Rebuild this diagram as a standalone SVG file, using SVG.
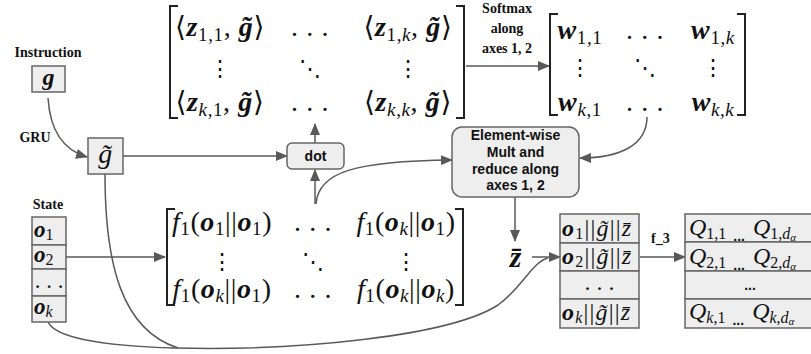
<svg xmlns="http://www.w3.org/2000/svg" width="811" height="354" viewBox="0 0 811 354">
<style>
.bg{fill:#ffffff}
.box{fill:#eeeeee;stroke:#666666;stroke-width:1.5}
.ln{fill:none;stroke:#595959;stroke-width:1.5}
.br{fill:none;stroke:#222222;stroke-width:2}
.lbl{font-family:"Liberation Serif","Times New Roman",serif;font-weight:bold;font-size:14px;fill:#111}
.sans{font-family:"Liberation Sans",Arial,sans-serif;font-weight:bold;font-size:14px;fill:#111;text-anchor:middle}
.m{font-family:"Liberation Serif","DejaVu Serif",serif;font-size:28px;fill:#111;letter-spacing:0.6px}
.m2{font-size:24px;letter-spacing:0}
.m3{font-size:23px;letter-spacing:0}
.cc{letter-spacing:1.2px}
.bi{font-weight:bold;font-style:italic}
.it{font-style:italic}
.sub{font-size:19px}
.sub2{font-size:16px}
.dots{font-family:"DejaVu Serif",serif;font-size:22px;fill:#111;text-anchor:middle}
.c{text-anchor:middle}
</style>
<defs>
<marker id="ah" markerWidth="12" markerHeight="10" refX="11" refY="5" orient="auto" markerUnits="userSpaceOnUse">
<path d="M0,0 L12,5 L0,10 z" fill="#595959"/>
</marker>
</defs>
<rect class="bg" x="0" y="0" width="811" height="354"/>

<g id="connectors">
<path class="ln" d="M48,98 C50,130 63,150 87,157" marker-end="url(#ah)"/>
<path class="ln" d="M123,156 L287,156" marker-end="url(#ah)"/>
<path class="ln" d="M315,143 L315,124" marker-end="url(#ah)"/>
<path class="ln" d="M315,204 L315,170" marker-end="url(#ah)"/>
<path class="ln" d="M316,204 C318,172 355,161 452,160" marker-end="url(#ah)"/>
<path class="ln" d="M466,66 L549,66" marker-end="url(#ah)"/>
<path class="ln" d="M647,117 C647,145 620,158 580,158" marker-end="url(#ah)"/>
<path class="ln" d="M515,197 L515,241" marker-end="url(#ah)"/>
<path class="ln" d="M66,257 L165,257" marker-end="url(#ah)"/>
<path class="ln" d="M532,257 L560,257" marker-end="url(#ah)"/>
<path class="ln" d="M640,257 L685,257" marker-end="url(#ah)"/>
<path class="ln" d="M105,174 C105,265 122,330 178,348"/>
<path class="ln" d="M48,322 C55,337 100,346 175,348 C300,351 450,336 498,305 C522,288 532,262 548,258"/>
</g>

<g id="instruction">
<text class="lbl c" x="48" y="57">Instruction</text>
<rect class="box" x="32" y="66" width="33" height="26"/>
<text class="m c m2" x="48.5" y="85"><tspan class="bi">g</tspan></text>
</g>

<g id="gru-label">
<text class="lbl c" x="35" y="142">GRU</text>
</g>

<g id="g-tilde">
<rect class="box" x="88" y="138" width="35" height="36"/>
<text class="m c" x="105.5" y="163"><tspan class="it">g&#x303;</tspan></text>
</g>

<g id="dot">
<rect class="box" x="287" y="143" width="57" height="26" rx="5"/>
<text class="sans" x="315.5" y="161">dot</text>
</g>

<g id="elementwise">
<rect class="box" x="452" y="127" width="127" height="70" rx="10"/>
<text class="sans" x="515.5" y="140">Element-wise</text>
<text class="sans" x="515.5" y="157">Mult and</text>
<text class="sans" x="515.5" y="174">reduce along</text>
<text class="sans" x="515.5" y="190">axes 1, 2</text>
</g>

<g id="softmax-label">
<text class="lbl c" x="507" y="13">Softmax</text>
<text class="lbl c" x="507" y="33">along</text>
<text class="lbl c" x="507" y="53">axes 1, 2</text>
</g>

<g id="z-matrix">
<path class="br" d="M178,6 H170 V118 H178"/>
<path class="br" d="M456,6 H464 V118 H456"/>
<text class="m c" x="220" y="36">⟨<tspan class="bi">z</tspan><tspan class="sub" dy="5">1,1</tspan><tspan dy="-5">, </tspan><tspan class="bi">g&#x303;</tspan>⟩</text>
<text class="m c" x="310" y="36">. . .</text>
<text class="m c" x="408" y="36">⟨<tspan class="bi">z</tspan><tspan class="sub" dy="5">1,</tspan><tspan class="sub it">k</tspan><tspan dy="-5">, </tspan><tspan class="bi">g&#x303;</tspan>⟩</text>
<text class="dots" x="220" y="76">⋮</text>
<text class="dots" x="310" y="76">⋱</text>
<text class="dots" x="408" y="76">⋮</text>
<text class="m c" x="220" y="111">⟨<tspan class="bi">z</tspan><tspan class="sub it" dy="5">k</tspan><tspan class="sub">,1</tspan><tspan dy="-5">, </tspan><tspan class="bi">g&#x303;</tspan>⟩</text>
<text class="m c" x="310" y="111">. . .</text>
<text class="m c" x="408" y="111">⟨<tspan class="bi">z</tspan><tspan class="sub it" dy="5">k</tspan><tspan class="sub">,</tspan><tspan class="sub it">k</tspan><tspan dy="-5">, </tspan><tspan class="bi">g&#x303;</tspan>⟩</text>
</g>

<g id="w-matrix">
<path class="br" d="M558,14 H550 V115 H558"/>
<path class="br" d="M737,14 H745 V115 H737"/>
<text class="m c" x="580" y="39"><tspan class="bi">w</tspan><tspan class="sub" dy="5">1,1</tspan></text>
<text class="m c" x="645" y="39">. . .</text>
<text class="m c" x="713" y="39"><tspan class="bi">w</tspan><tspan class="sub" dy="5">1,</tspan><tspan class="sub it">k</tspan></text>
<text class="dots" x="580" y="75">⋮</text>
<text class="dots" x="645" y="75">⋱</text>
<text class="dots" x="713" y="75">⋮</text>
<text class="m c" x="580" y="111"><tspan class="bi">w</tspan><tspan class="sub it" dy="5">k</tspan><tspan class="sub">,1</tspan></text>
<text class="m c" x="645" y="111">. . .</text>
<text class="m c" x="713" y="111"><tspan class="bi">w</tspan><tspan class="sub it" dy="5">k</tspan><tspan class="sub">,</tspan><tspan class="sub it">k</tspan></text>
</g>

<g id="state">
<text class="lbl c" x="48" y="209">State</text>
<rect class="box" x="32" y="217" width="34" height="28"/>
<rect class="box" x="32" y="245" width="34" height="24"/>
<rect class="box" x="32" y="269" width="34" height="27"/>
<rect class="box" x="32" y="296" width="34" height="26"/>
<text class="m m3" x="34" y="237"><tspan class="bi">o</tspan><tspan class="sub2" dy="3">1</tspan></text>
<text class="m m3" x="34" y="262"><tspan class="bi">o</tspan><tspan class="sub2" dy="3">2</tspan></text>
<text class="m c m3" x="49" y="288">. . .</text>
<text class="m m3" x="34" y="314"><tspan class="bi">o</tspan><tspan class="sub2 it" dy="3">k</tspan></text>
</g>

<g id="f1-matrix">
<path class="br" d="M175,209 H167 V305 H175"/>
<path class="br" d="M455,209 H463 V305 H455"/>
<text class="m c" x="222" y="231"><tspan class="it">f</tspan><tspan class="sub" dy="4">1</tspan><tspan dy="-4">(</tspan><tspan class="bi">o</tspan><tspan class="sub" dy="4">1</tspan><tspan dy="-4">||</tspan><tspan class="bi">o</tspan><tspan class="sub" dy="4">1</tspan><tspan dy="-4">)</tspan></text>
<text class="m c" x="313" y="231">. . .</text>
<text class="m c" x="406" y="231"><tspan class="it">f</tspan><tspan class="sub" dy="4">1</tspan><tspan dy="-4">(</tspan><tspan class="bi">o</tspan><tspan class="sub it" dy="4">k</tspan><tspan dy="-4">||</tspan><tspan class="bi">o</tspan><tspan class="sub" dy="4">1</tspan><tspan dy="-4">)</tspan></text>
<text class="dots" x="222" y="269">⋮</text>
<text class="dots" x="313" y="269">⋱</text>
<text class="dots" x="406" y="269">⋮</text>
<text class="m c" x="222" y="298"><tspan class="it">f</tspan><tspan class="sub" dy="4">1</tspan><tspan dy="-4">(</tspan><tspan class="bi">o</tspan><tspan class="sub it" dy="4">k</tspan><tspan dy="-4">||</tspan><tspan class="bi">o</tspan><tspan class="sub" dy="4">1</tspan><tspan dy="-4">)</tspan></text>
<text class="m c" x="313" y="298">. . .</text>
<text class="m c" x="406" y="298"><tspan class="it">f</tspan><tspan class="sub" dy="4">1</tspan><tspan dy="-4">(</tspan><tspan class="bi">o</tspan><tspan class="sub it" dy="4">k</tspan><tspan dy="-4">||</tspan><tspan class="bi">o</tspan><tspan class="sub it" dy="4">k</tspan><tspan dy="-4">)</tspan></text>
</g>

<g id="z-bar">
<text class="m c" x="516" y="267" style="font-size:30px"><tspan class="bi">z&#x304;</tspan></text>
</g>

<g id="concat">
<rect class="box" x="560" y="214" width="79" height="29"/>
<rect class="box" x="560" y="243" width="79" height="28"/>
<rect class="box" x="560" y="271" width="79" height="28"/>
<rect class="box" x="560" y="299" width="79" height="29"/>
<text class="m m2 cc" x="562" y="236"><tspan class="bi">o</tspan><tspan class="sub2" dy="3">1</tspan><tspan dy="-3">||</tspan><tspan class="it">g&#x303;</tspan>||<tspan class="it">z&#x304;</tspan></text>
<text class="m m2 cc" x="562" y="264"><tspan class="bi">o</tspan><tspan class="sub2" dy="3">2</tspan><tspan dy="-3">||</tspan><tspan class="it">g&#x303;</tspan>||<tspan class="it">z&#x304;</tspan></text>
<text class="m c m2" x="599.5" y="290">. . .</text>
<text class="m m2 cc" x="562" y="320"><tspan class="bi">o</tspan><tspan class="sub2 it" dy="3">k</tspan><tspan dy="-3">||</tspan><tspan class="it">g&#x303;</tspan>||<tspan class="it">z&#x304;</tspan></text>
</g>

<g id="f3-label">
<text class="lbl" x="651" y="243">f_3</text>
</g>

<g id="q-table">
<rect class="box" x="685" y="214" width="130" height="28"/>
<rect class="box" x="685" y="242" width="130" height="29"/>
<rect class="box" x="685" y="271" width="130" height="28"/>
<rect class="box" x="685" y="299" width="130" height="29"/>
<text class="m m2" x="689" y="235"><tspan class="it">Q</tspan><tspan class="sub2" dy="4">1,1</tspan><tspan class="sans" dx="7" dy="2" style="text-anchor:start">...</tspan><tspan class="it" dx="8" dy="-6">Q</tspan><tspan class="sub2" dy="4">1,</tspan><tspan class="sub2 it">d</tspan><tspan class="it" style="font-size:11px" dy="2">α</tspan></text>
<text class="m m2" x="689" y="264"><tspan class="it">Q</tspan><tspan class="sub2" dy="4">2,1</tspan><tspan class="sans" dx="7" dy="2" style="text-anchor:start">...</tspan><tspan class="it" dx="8" dy="-6">Q</tspan><tspan class="sub2" dy="4">2,</tspan><tspan class="sub2 it">d</tspan><tspan class="it" style="font-size:11px" dy="2">α</tspan></text>
<text class="sans" x="750" y="290">...</text>
<text class="m m2" x="689" y="319"><tspan class="it">Q</tspan><tspan class="sub2 it" dy="4">k</tspan><tspan class="sub2">,1</tspan><tspan class="sans" dx="7" dy="2" style="text-anchor:start">...</tspan><tspan class="it" dx="8" dy="-6">Q</tspan><tspan class="sub2 it" dy="4">k</tspan><tspan class="sub2">,</tspan><tspan class="sub2 it">d</tspan><tspan class="it" style="font-size:11px" dy="2">α</tspan></text>
</g>
</svg>
